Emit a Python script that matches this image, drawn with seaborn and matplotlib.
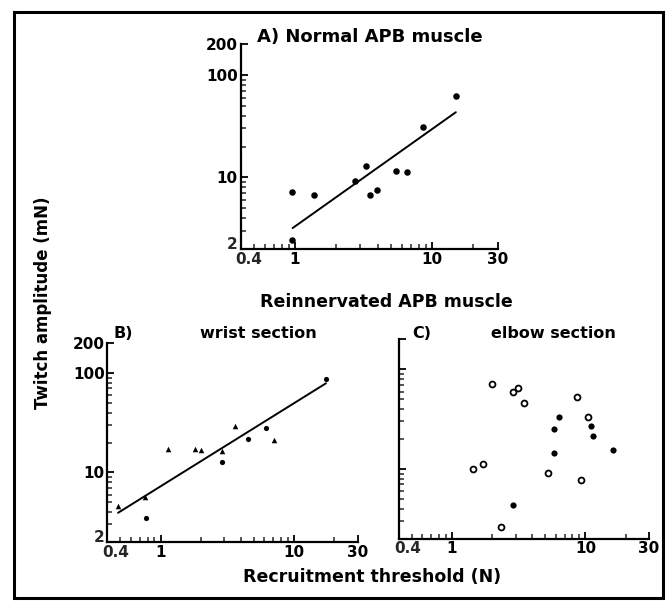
import matplotlib
matplotlib.use("Agg")
import matplotlib.pyplot as plt
import seaborn as sns
import pandas as pd
from matplotlib.ticker import FixedLocator, FixedFormatter, NullFormatter
from matplotlib.patches import Rectangle

# ---------------- data ----------------
# A) Normal APB muscle
a_thresh = [0.95, 0.95, 1.38, 2.72, 3.3, 3.52, 3.94, 5.42, 6.56, 8.6, 14.9]
a_twitch = [7.2, 2.44, 6.8, 9.15, 12.9, 6.7, 7.5, 11.6, 11.3, 31, 62.7]
a_fit_x = [0.96, 14.9]
a_fit_y = [3.2, 43.2]

# B) wrist section (triangles and dots)
b_tri_x = [0.48, 0.77, 1.14, 1.82, 2.0, 2.88, 3.61, 7.08]
b_tri_y = [4.58, 5.64, 17.2, 17.2, 16.9, 16.3, 29.3, 21.1]
b_dot_x = [0.78, 2.88, 4.49, 6.13, 17.4]
b_dot_y = [3.47, 12.8, 21.5, 28.2, 86.5]
b_fit_x = [0.48, 17.4]
b_fit_y = [3.93, 78.7]

# C) elbow section (open and filled circles)
c_open_x = [1.43, 1.72, 2.0, 2.31, 2.86, 3.15, 3.44, 5.27, 8.7, 9.28, 10.5]
c_open_y = [9.9, 11.3, 71, 2.58, 59, 65.5, 46, 9.05, 53, 7.7, 33]
c_fill_x = [2.86, 5.78, 5.8, 6.34, 10.96, 11.5, 16.0]
c_fill_y = [4.33, 25.4, 14.6, 33.5, 27.2, 21.6, 15.6]

x_major = [0.4, 1, 10, 30]
x_major_labels = ["0.4", "1", "10", "30"]
x_minor = [0.5, 0.6, 0.7, 0.8, 0.9, 2, 3, 4, 5, 6, 7, 8, 9, 20]
y_major = [2, 10, 100, 200]
y_major_labels = ["2", "10", "100", "200"]
y_minor = [3, 4, 5, 6, 7, 8, 9, 20, 30, 40, 50, 60, 70, 80, 90]

# ---------------- style ----------------
sns.set_style("ticks")
plt.rcParams["font.family"] = ["DejaVu Sans"]
plt.rcParams["font.weight"] = "bold"

W, H = 672, 610
fig = plt.figure(figsize=(W / 100, H / 100), dpi=100)

def px_axes(left, right, bottom, top):
    return fig.add_axes([left / W, 1 - bottom / H, (right - left) / W, (bottom - top) / H])

axA = px_axes(240.5, 497.5, 249, 44)
axB = px_axes(107.5, 357.5, 542, 343)
axC = px_axes(399, 649, 538.5, 339.5)

TICK_FS = 11

def style(ax, ylabels=True):
    ax.set_xscale("log")
    ax.set_yscale("log")
    ax.set_xlim(0.4, 30)
    ax.set_ylim(2, 200)
    # the corner labels "0.4" and "2" are placed by hand below so they do not collide
    ax.xaxis.set_major_locator(FixedLocator(x_major))
    ax.xaxis.set_major_formatter(FixedFormatter([""] + x_major_labels[1:]))
    ax.xaxis.set_minor_locator(FixedLocator(x_minor))
    ax.xaxis.set_minor_formatter(NullFormatter())
    ax.yaxis.set_major_locator(FixedLocator(y_major))
    if ylabels:
        ax.yaxis.set_major_formatter(FixedFormatter([""] + y_major_labels[1:]))
    else:
        ax.yaxis.set_major_formatter(NullFormatter())
    ax.yaxis.set_minor_locator(FixedLocator(y_minor))
    ax.yaxis.set_minor_formatter(NullFormatter())
    for s in ["top", "right"]:
        ax.spines[s].set_visible(False)
    for s in ["left", "bottom"]:
        ax.spines[s].set_linewidth(1.6)
        ax.spines[s].set_color("black")
    ax.tick_params(which="major", direction="in", length=5, width=1.3,
                   labelsize=TICK_FS, pad=2, colors="black")
    ax.tick_params(which="minor", direction="in", length=3.5, width=1.1)
    for lab in ax.get_xticklabels() + ax.get_yticklabels():
        lab.set_fontweight("bold")
    # corner labels
    ax.annotate(x_major_labels[0], xy=(x_major[0], 0), xycoords=("data", "axes fraction"),
                xytext=(6, -2), textcoords="offset points", ha="center", va="top",
                fontsize=TICK_FS, fontweight="bold")
    if ylabels:
        ax.annotate(y_major_labels[0], xy=(0, y_major[0]), xycoords=("axes fraction", "data"),
                    xytext=(-2.5, -2.5), textcoords="offset points", ha="right", va="bottom",
                    fontsize=TICK_FS, fontweight="bold")
    ax.set_xlabel("")
    ax.set_ylabel("")
    ax.patch.set_alpha(0)

# Panel A
dfA = pd.DataFrame({"x": a_thresh, "y": a_twitch})
sns.scatterplot(data=dfA, x="x", y="y", ax=axA, color="black", s=22,
                edgecolor="black", linewidth=0, marker="o", clip_on=False)
sns.lineplot(x=a_fit_x, y=a_fit_y, ax=axA, color="black", linewidth=1.4)
style(axA)

# Panel B
dfBt = pd.DataFrame({"x": b_tri_x, "y": b_tri_y})
dfBd = pd.DataFrame({"x": b_dot_x, "y": b_dot_y})
sns.scatterplot(data=dfBt, x="x", y="y", ax=axB, color="black", s=16,
                marker="^", linewidth=0, clip_on=False)
sns.scatterplot(data=dfBd, x="x", y="y", ax=axB, color="black", s=14,
                marker="o", linewidth=0, clip_on=False)
sns.lineplot(x=b_fit_x, y=b_fit_y, ax=axB, color="black", linewidth=1.4)
style(axB)

# Panel C
dfCo = pd.DataFrame({"x": c_open_x, "y": c_open_y})
dfCf = pd.DataFrame({"x": c_fill_x, "y": c_fill_y})
sns.scatterplot(data=dfCo, x="x", y="y", ax=axC, facecolor="white",
                edgecolor="black", s=18, linewidth=1.3, marker="o", clip_on=False)
sns.scatterplot(data=dfCf, x="x", y="y", ax=axC, color="black", s=20,
                linewidth=0, marker="o", clip_on=False)
style(axC, ylabels=False)

# ---------------- texts ----------------
def ftext(x, y, s, **kw):
    fig.text(x / W, 1 - y / H, s, fontweight="bold", color="black", **kw)

ftext(370, 37, "A) Normal APB muscle", ha="center", va="center", fontsize=13)
ftext(386, 302, "Reinnervated APB muscle", ha="center", va="center", fontsize=12.5)
ftext(123, 334, "B)", ha="center", va="center", fontsize=11.5)
ftext(258, 334, "wrist section", ha="center", va="center", fontsize=11.5)
ftext(422, 333, "C)", ha="center", va="center", fontsize=11.5)
ftext(553, 333, "elbow section", ha="center", va="center", fontsize=11.5)
ftext(372, 577, "Recruitment threshold (N)", ha="center", va="center", fontsize=12.5)
ftext(43, 303, "Twitch amplitude (mN)", ha="center", va="center", fontsize=12,
      rotation=90)

# frame around the whole figure
fig.patches.append(Rectangle((14 / W, 1 - 598 / H), (663 - 14) / W, (598 - 12) / H,
                             transform=fig.transFigure, fill=False,
                             edgecolor="black", linewidth=2.2))

fig.savefig("out.png", dpi=100)
